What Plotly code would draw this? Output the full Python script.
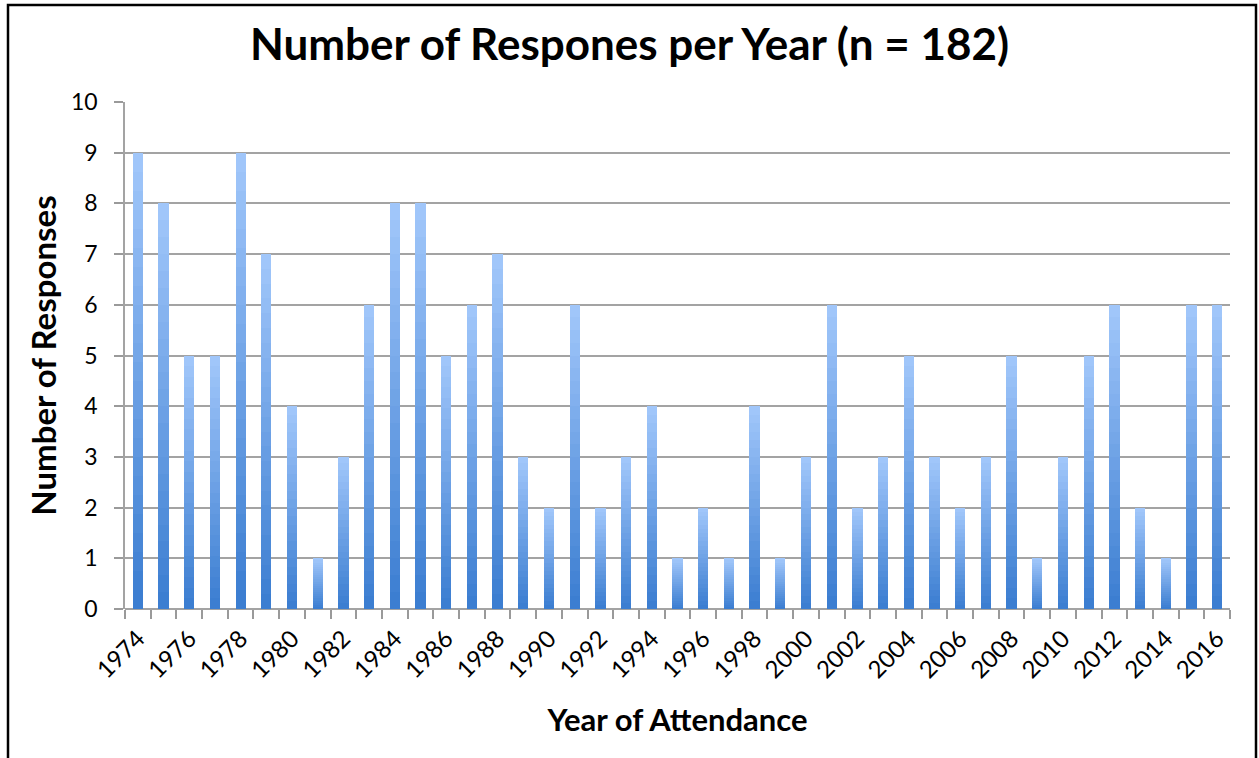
import plotly.graph_objects as go

# Responses per year of attendance
years = list(range(1974, 2017))
responses = [9, 8, 5, 5, 9, 7, 4, 1, 3, 6,
             8, 8, 5, 6, 7, 3, 2, 6, 2, 3,
             4, 1, 2, 1, 4, 1, 3, 6, 2, 3,
             5, 3, 2, 3, 5, 1, 3, 5, 6, 2,
             1, 6, 6]
even_years = [y for y in years if y % 2 == 0]

# Vertical gradient per bar: light at the top, darker at the base
top_rgb = (160, 198, 250)
bottom_rgb = (60, 126, 209)
steps = 24

fig = go.Figure()
for k in range(steps):
    t = k / (steps - 1)  # 0 = bottom slice, 1 = top slice
    r = round(bottom_rgb[0] + (top_rgb[0] - bottom_rgb[0]) * t)
    g = round(bottom_rgb[1] + (top_rgb[1] - bottom_rgb[1]) * t)
    b = round(bottom_rgb[2] + (top_rgb[2] - bottom_rgb[2]) * t)
    fig.add_trace(go.Bar(
        x=years,
        y=[v / steps for v in responses],
        base=[v * k / steps for v in responses],
        marker=dict(color=f"rgb({r},{g},{b})", line=dict(width=0)),
        width=0.4,
        showlegend=False,
        hoverinfo="skip",
    ))

font_family = "Lato, 'Open Sans', sans-serif"

fig.update_layout(
    width=1259, height=758,
    margin=dict(l=125, r=29, t=102, b=149),
    paper_bgcolor="white", plot_bgcolor="white",
    barmode="overlay",
    bargap=0,
    title=dict(
        text="<b>Number of Respones per Year (n = 182)</b>",
        x=0.5, xanchor="center", xref="container",
        y=1 - 45 / 758, yanchor="middle",
        font=dict(family=font_family, size=44, color="black"),
    ),
    font=dict(family=font_family, color="black"),
)

fig.update_xaxes(
    range=[1973.5, 2016.5],
    tickmode="array", tickvals=even_years, ticktext=[str(y) for y in even_years],
    tickangle=-45, ticks="", tickfont=dict(size=24),
    ticklabelstandoff=10,
    showgrid=False, zeroline=False,
    showline=False,
    minor=dict(tick0=1973.5, dtick=1, ticks="outside", ticklen=9,
               tickcolor="#9a9a9a", tickwidth=1.5, showgrid=False),
    title=dict(text="<b>Year of Attendance</b>", font=dict(size=31), standoff=26),
)

fig.update_yaxes(
    range=[0, 10], dtick=1, tick0=0,
    ticks="outside", ticklen=9, tickcolor="#9a9a9a", tickwidth=1.5,
    tickfont=dict(size=23),
    ticklabelstandoff=12,
    showgrid=True, gridcolor="#a3a3a3", gridwidth=1.5,
    zeroline=True, zerolinecolor="#a3a3a3", zerolinewidth=1.5,
    showline=True, linecolor="#a3a3a3", linewidth=1.5,
    title=dict(text="<b>Number of Responses</b>", font=dict(size=33), standoff=4),
)

# Frame around the whole chart
fig.add_shape(
    type="rect", xref="paper", yref="paper",
    x0=(8 - 125) / 1105, x1=(1256 - 125) / 1105,
    y0=(609 - 775) / 507, y1=(609 - 5) / 507,
    line=dict(color="black", width=2.5), fillcolor="rgba(0,0,0,0)",
    layer="above",
)

fig.write_html("out.html")
